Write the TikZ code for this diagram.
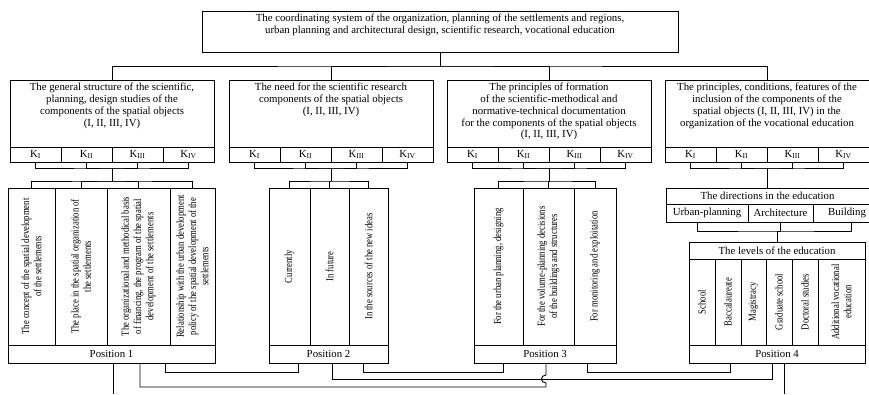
\documentclass[tikz,border=0pt]{standalone}
\usepackage{fontspec}
\setmainfont{Liberation Serif}
\newfontfamily\narrowserif[FakeStretch=0.8]{Liberation Serif}
\newcommand{\linewd}{.9pt}
\newcommand{\txtsize}{\fontsize{10.8}{11.7}\selectfont}
\newcommand{\coltxtsize}{\fontsize{10.8}{12.2}\selectfont}

\begin{document}
\begin{tikzpicture}[x=1pt,y=-1pt,
  every node/.style={font=\txtsize},
  box/.style={draw, rectangle, inner sep=2pt, line width=\linewd},
  col/.style={box, rotate=90, align=center, font=\narrowserif\coltxtsize},
  every path/.style={line width=\linewd}]

        \useasboundingbox (0,0) rectangle (869,394);

        % top
        \node (coord) at (440,31.5) [box, minimum width=476pt, minimum height=41pt] {};
        \node (coordt) at (coord.north) [below, align=center] {The coordinating system of the organization, planning of the settlements and regions,\\urban planning and architectural design, scientific research, vocational education};

        % second level
        \node (h1) at (112,113.5) [box, minimum width=204pt, minimum height=67pt] {};
        \node (h2) at (331,113.5) [box, minimum width=204pt, minimum height=67pt] {};
        \node (h3) at (549,113.5) [box, minimum width=204pt, minimum height=67pt] {};
        \node (h4) at (767,113.5) [box, minimum width=204pt, minimum height=67pt] {};
        \node (h1t) at (h1.north) [below, align=center] {The general structure of the scientific,\\planning, design studies of the\\components of the spatial objects\\(I, II, III, IV)};
        \node (h2t) at (h2.north) [below, align=center] {The need for the scientific research\\components of the spatial objects\\(I, II, III, IV)};
        \node (h3t) at (h3.north) [below, align=center] {The principles of formation\\of the scientific-methodical and\\normative-technical documentation\\for the components of the spatial objects\\(I, II, III, IV)};
        \node (h4t) at (h4.north) [below, align=center] {The principles, conditions, features of the\\inclusion of the components of the\\spatial objects (I, II, III, IV) in the\\organization of the vocational education};

        \node (k1a) at (35.5,154.5) [box, minimum width=51pt, minimum height=15pt] {K\textsubscript{I}};
        \node (k1b) at (86.5,154.5) [box, minimum width=51pt, minimum height=15pt] {K\textsubscript{II}};
        \node (k1c) at (137.5,154.5) [box, minimum width=51pt, minimum height=15pt] {K\textsubscript{III}};
        \node (k1d) at (188.5,154.5) [box, minimum width=51pt, minimum height=15pt] {K\textsubscript{IV}};
        \node (k2a) at (254.5,154.5) [box, minimum width=51pt, minimum height=15pt] {K\textsubscript{I}};
        \node (k2b) at (305.5,154.5) [box, minimum width=51pt, minimum height=15pt] {K\textsubscript{II}};
        \node (k2c) at (356.5,154.5) [box, minimum width=51pt, minimum height=15pt] {K\textsubscript{III}};
        \node (k2d) at (407.5,154.5) [box, minimum width=51pt, minimum height=15pt] {K\textsubscript{IV}};
        \node (k3a) at (472.5,154.5) [box, minimum width=51pt, minimum height=15pt] {K\textsubscript{I}};
        \node (k3b) at (523.5,154.5) [box, minimum width=51pt, minimum height=15pt] {K\textsubscript{II}};
        \node (k3c) at (574.5,154.5) [box, minimum width=51pt, minimum height=15pt] {K\textsubscript{III}};
        \node (k3d) at (625.5,154.5) [box, minimum width=51pt, minimum height=15pt] {K\textsubscript{IV}};
        \node (k4a) at (690.5,154.5) [box, minimum width=51pt, minimum height=15pt] {K\textsubscript{I}};
        \node (k4b) at (741.5,154.5) [box, minimum width=51pt, minimum height=15pt] {K\textsubscript{II}};
        \node (k4c) at (792.5,154.5) [box, minimum width=51pt, minimum height=15pt] {K\textsubscript{III}};
        \node (k4d) at (843.5,154.5) [box, minimum width=51pt, minimum height=15pt] {K\textsubscript{IV}};

        % columns
        \node (c1a) at (31.5,266.5) [col, minimum width=157pt, minimum height=47pt] {The concept of the spatial development\\of the settlements};
        \node (c1b) at (81,266.5) [col, minimum width=157pt, minimum height=52pt] {The place in the spatial organization of\\the settlements};
        \node (c1c) at (138.5,266.5) [col, minimum width=157pt, minimum height=63pt] {The organizational and methodical basis\\of financing, the program of the spatial\\development of the settlements};
        \node (c1d) at (192.5,266.5) [col, minimum width=157pt, minimum height=45pt] {Relationship with the urban development\\policy of the spatial development of the\\settlements};
        \node (c2a) at (289.5,266.5) [col, minimum width=157pt, minimum height=41pt] {Currently};
        \node (c2b) at (329.5,266.5) [col, minimum width=157pt, minimum height=39pt] {In future};
        \node (c2c) at (368.5,266.5) [col, minimum width=157pt, minimum height=39pt] {In the sources of the new ideas};
        \node (c3a) at (498.5,266.5) [col, minimum width=157pt, minimum height=49pt] {For the urban planning, designing};
        \node (c3b) at (548.5,266.5) [col, minimum width=157pt, minimum height=51pt] {For the volume-planning decisions\\of the buildings and structures};
        \node (c3c) at (595,266.5) [col, minimum width=157pt, minimum height=42pt] {For monitoring and exploitation};

        % education
        \node (dir) at (767.5,196) [box, minimum width=203pt, minimum height=16pt] {The directions in the education};
        \node (du) at (707,213) [box, minimum width=82pt, minimum height=18pt] {Urban-planning};
        \node (da) at (780.5,213) [box, minimum width=65pt, minimum height=18pt] {Architecture};
        \node (db) at (841,213) [box, minimum width=56pt, minimum height=18pt, text width=50pt, align=right] {Building};
        \node (lev) at (777,250.5) [box, minimum width=176pt, minimum height=17pt] {The levels of the education};
        \node (la) at (702,302) [col, minimum width=86pt, minimum height=26pt] {School};
        \node (lb) at (728,302) [col, minimum width=86pt, minimum height=26pt] {Baccalaureate};
        \node (lc) at (753.5,302) [col, minimum width=86pt, minimum height=25pt] {Magistracy};
        \node (ld) at (779,302) [col, minimum width=86pt, minimum height=26pt] {Graduate school};
        \node (le) at (805,302) [col, minimum width=86pt, minimum height=26pt] {Doctoral studies};
        \node (lf) at (841.5,302) [col, minimum width=86pt, minimum height=47pt] {Additional vocational\\education};

        % positions
        \node (p1) at (111.5,354) [box, minimum width=207pt, minimum height=18pt] {Position 1};
        \node (p2) at (328.5,354) [box, minimum width=119pt, minimum height=18pt] {Position 2};
        \node (p3) at (545,354) [box, minimum width=142pt, minimum height=18pt] {Position 3};
        \node (p4) at (777,354) [box, minimum width=176pt, minimum height=18pt] {Position 4};

        \coordinate (bus0) at (440,66);
        \coordinate (j1) at (112,168);
        \coordinate (j2) at (331,168);
        \coordinate (j3) at (549,168);
        \coordinate (j4) at (767,168);
        \coordinate (m1) at (112,181);
        \coordinate (m2) at (331,181);
        \coordinate (m3) at (549,181);
        \coordinate (j5) at (778,231);
        \coordinate (hop) at (546,379);
        \coordinate (out1) at (113,394);
        \coordinate (out4) at (784,394);

        \draw (coord.south) -- (bus0);
        \draw (h1.north) |- (bus0) -| (h4.north);
        \draw (h2.north) |- (bus0) -| (h3.north);

        \draw (k1a.south) |- (j1) -| (k1d.south);
        \draw (k1b.south) |- (j1) -| (k1c.south);
        \draw (j1) -- (m1);
        \draw (c1a.east) |- (m1) -| (c1d.east);
        \draw (c1b.east) |- (m1) -| (c1c.east);

        \draw (k2a.south) |- (j2) -| (k2d.south);
        \draw (k2b.south) |- (j2) -| (k2c.south);
        \draw (j2) -- (m2);
        \draw (c2a.east) |- (m2) -| (c2c.east);
        \draw (c2b.east) |- (m2);

        \draw (k3a.south) |- (j3) -| (k3d.south);
        \draw (k3b.south) |- (j3) -| (k3c.south);
        \draw (j3) -- (m3);
        \draw (c3a.east) |- (m3) -| (c3c.east);
        \draw (c3b.east) |- (m3);

        \draw (k4a.south) |- (j4) -| (k4d.south);
        \draw (k4b.south) |- (j4) -| (k4c.south);
        \draw (dir.north) |- (j4);

        \draw ([xshift=-10pt]du.south) |- (j5) -| ([xshift=10pt]db.south);
        \draw (da.south) |- (j5);
        \draw (lev.north) |- (j5);

        \draw ([xshift=1.5pt]p1.south) -- (out1);
        \draw ([xshift=53.5pt]p1.south) -- ++(0,9) -| ([xshift=-30.5pt]p2.south);
        \draw ([xshift=34.5pt]p2.south) -- ++(0,9) -| ([xshift=-42pt]p3.south);
        \draw ([xshift=42pt]p3.south) -- ++(0,9) -| ([xshift=-47pt]p4.south);
        \draw ([xshift=3.5pt]p2.south) -- ++(0,16) -| ([xshift=-5pt]p4.south);
        \draw ([xshift=1pt]p3.south) -- ([yshift=4pt]hop) .. controls +(-6,0) and +(-6,0) .. ([yshift=-4pt]hop) -- ++(0,4) -| ([xshift=28.5pt]p1.south);
        \draw ([xshift=7pt]p4.south) -- (out4);

\end{tikzpicture}
\end{document}
